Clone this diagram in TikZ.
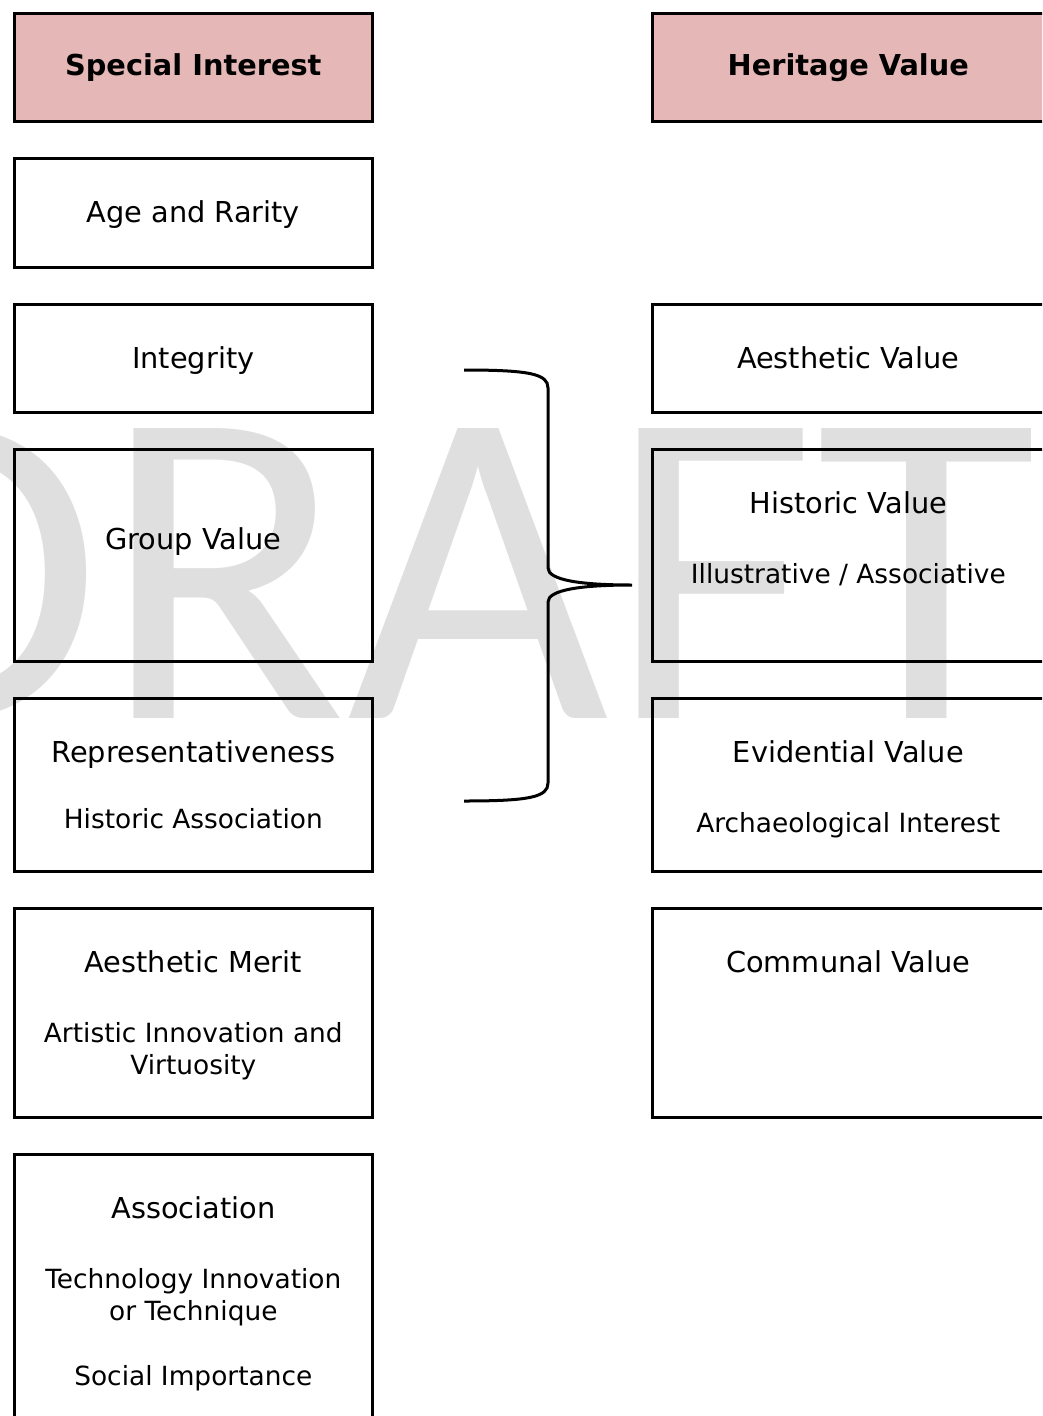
\documentclass[tikz,border=0pt]{standalone}
\usepackage{fontspec}
\setmainfont{DejaVu Sans}
\newfontfamily\draftfont{Carlito}
\usetikzlibrary{positioning}
\definecolor{headpink}{HTML}{E5B8B7}
\definecolor{draftgrey}{HTML}{DFDFDF}
\newcommand{\ttl}{\fontsize{28.8}{34.6}\selectfont}
\newcommand{\subtx}{\fontsize{26.4}{32}\selectfont}

\begin{document}
\begin{tikzpicture}[x=1pt,y=-1pt,
		box/.style={rectangle,draw,line width=2.6pt,anchor=north west,inner sep=0pt,minimum width=358pt},
		rbox/.style={box,minimum width=396pt},
		head/.style={fill=headpink,minimum height=108pt,font=\ttl\bfseries},
		txt/.style={align=center,inner sep=0pt,font=\subtx,execute at begin node=\strut},
		wmark/.style={text=draftgrey,inner sep=0pt,font=\draftfont\fontsize{452}{452}\selectfont},
		brace/.style={line width=3pt}]
		\clip (0,0) rectangle (1042,1416);
		\node[wmark,anchor=base east] (draft) at (1037,718) {DRAFT};

		% headers
		\node[box,head] (special) at (13,12) {Special Interest};
		\node[rbox,head] (heritage) at (651,12) {\hspace*{-4pt}Heritage Value};

		% special interest column
		\node[box,minimum height=109pt] (age) at (13,157) {};
		\node[box,minimum height=108pt] (integ) at (13,303) {};
		\node[box,minimum height=212pt] (group) at (13,448) {};
		\node[box,minimum height=173pt] (repr) at (13,697) {};
		\node[box,minimum height=209pt] (merit) at (13,907) {};
		\node[box,minimum height=290pt] (assoc) at (13,1153) {};

		\node[txt,below=43pt of age.north] (ageT) {{\ttl Age and Rarity}};
		\node[txt,below=43pt of integ.north] (integT) {{\ttl Integrity}};
		\node[txt,below=79pt of group.north] (groupT) {{\ttl Group Value}};
		\node[txt,below=43pt of repr.north] (reprT) {{\ttl Representativeness}\\[34pt]Historic Association};
		\node[txt,below=43pt of merit.north] (meritT) {{\ttl Aesthetic Merit}\\[38pt]Artistic Innovation and\\Virtuosity};
		\node[txt,below=43pt of assoc.north] (assocT) {{\ttl Association}\\[38pt]Technology Innovation\\or Technique\\[33pt]Social Importance};

		% heritage value column
		\node[rbox,minimum height=108pt] (aesth) at (651,303) {};
		\node[rbox,minimum height=212pt] (hist) at (651,448) {};
		\node[rbox,minimum height=173pt] (evid) at (651,697) {};
		\node[rbox,minimum height=209pt] (comm) at (651,907) {};

		\node[txt,below=43pt of {[xshift=-2pt]aesth.north}] (aesthT) {{\ttl Aesthetic Value}};
		\node[txt,below=43pt of {[xshift=-2pt]hist.north}] (histT) {{\ttl Historic Value}\\[38pt]Illustrative / Associative};
		\node[txt,below=43pt of {[xshift=-2pt]evid.north}] (evidT) {{\ttl Evidential Value}\\[38pt]Archaeological Interest};
		\node[txt,below=43pt of {[xshift=-2pt]comm.north}] (commT) {{\ttl Communal Value}};

		% brace
		\coordinate (brTop) at (464,370);
		\coordinate (brBot) at (464,801);
		\coordinate (brTip) at (632,585);
		\draw[brace] (brTop) .. controls (530,370) and (548,374) .. (548,388) -- (548,568)
			.. controls (548,580) and (580,585) .. (brTip)
			.. controls (580,585) and (548,590) .. (548,602) -- (548,783)
			.. controls (548,797) and (530,801) .. (brBot);
\end{tikzpicture}
\end{document}
